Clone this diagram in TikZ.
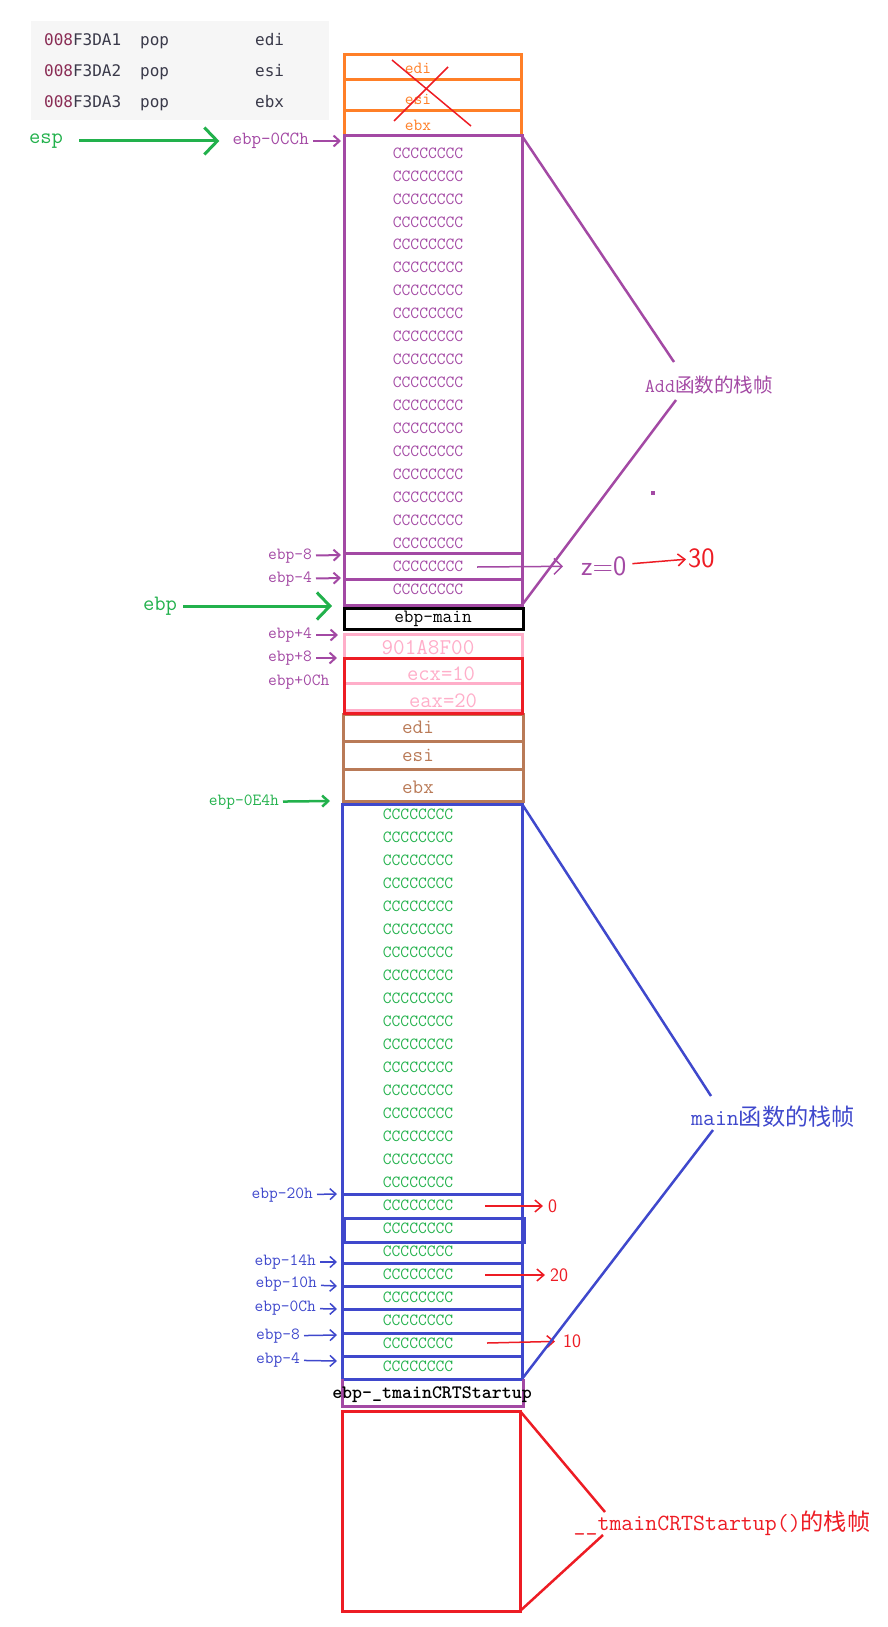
\documentclass[tikz,border=0pt]{standalone}
\usepackage{fontspec}
\newfontfamily\cjk{Noto Sans CJK SC}
\newfontfamily\asmfont{DejaVu Sans Mono}
\usetikzlibrary{arrows.meta}

\definecolor{stkorange}{HTML}{FF7F27}
\definecolor{stkpurple}{HTML}{A349A4}
\definecolor{stkgreen}{HTML}{22B14C}
\definecolor{stkpink}{HTML}{FFAEC9}
\definecolor{stkred}{HTML}{ED1C24}
\definecolor{stkbrown}{HTML}{B97A57}
\definecolor{stkblue}{HTML}{3F48CC}
\definecolor{asmgray}{HTML}{F6F6F6}
\definecolor{asmaddr}{HTML}{8A2D55}
\definecolor{asmtext}{HTML}{3A3A4A}

\begin{document}
\begin{tikzpicture}[
    x = 1pt, y = -1pt,
    every node/.style = {inner sep = 0pt},
    cell/.style = {font = \fontsize{17}{17}\selectfont\ttfamily},
    reg name/.style = {font = \fontsize{22}{22}\selectfont\ttfamily},
    hand/.style = {font = \fontsize{28}{28}\selectfont\sffamily},
    small hand/.style = {font = \fontsize{19}{19}\selectfont\sffamily},
    asm/.style = {font = \fontsize{16}{16}\selectfont\asmfont, anchor = base west},
    stack frame/.style = {line width = 3pt},
    spoke/.style = {line width = 2.5pt},
    pointer/.style = {
        line width = 2pt, shorten <= 4pt,
        -{Straight Barb[length = 6pt, width = 11pt]}
    },
    reg arrow/.style = {
        line width = 3pt, stkgreen,
        -{Straight Barb[length = 13pt, width = 27pt]}
    },
    note/.style = {
        line width = 1.5pt, stkred,
        -{Straight Barb[length = 7pt, width = 12pt]}
    }
]

\useasboundingbox (0,0) rectangle (888,1627);

% pop instructions
\fill[asmgray] (31,21) rectangle (329,120);
\foreach \n/\y/\r in {1/46/edi, 2/77/esi, 3/108/ebx} {
    \node[asm, text=asmtext] (addr\n) at (44,\y) {\textcolor{asmaddr}{008}F3DA\n};
    \node[asm, text=asmtext] (op\n) at (140,\y) {pop};
    \node[asm, text=asmtext] (reg\n) at (255,\y) {\r};
}

% registers already popped
\draw[stack frame, stkorange] (344,55) rectangle (521,136)
    (344,80) -- (521,80) (344,111) -- (521,111);
\node[cell, text=stkorange] (popedi) at (418,68) {edi};
\node[cell, text=stkorange] (popesi) at (418,99) {esi};
\node[cell, text=stkorange] (popebx) at (418,125) {ebx};
\draw[stkred, line width = 1.5pt] (392,60) -- (471,126) (448,67) -- (394,121);

% Add frame
\draw[stack frame, stkpurple] (344,136) rectangle (522,605)
    (344,553) -- (522,553) (344,579) -- (522,579);
\foreach \i in {0,...,19}
    \node[cell, text=stkpurple] (addc\i) at (428,{153+22.95*\i}) {CCCCCCCC};

\node[cell, text=stkpurple, anchor=east, font=\fontsize{18.5}{18.5}\selectfont\ttfamily] (cch) at (309,141) {ebp-0CCh};
\coordinate (espslot) at (341,141);
\draw[pointer, stkpurple] (cch) -- (espslot);
\node[reg name, text=stkgreen] (esp) at (46,141) {esp};
\draw[reg arrow, shorten <= 16pt, shorten >= 13pt] (esp) -- (cch);

\node[cell, text=stkpurple, anchor=east] (am8) at (312,556) {ebp-8};
\node[cell, text=stkpurple, anchor=east] (am4) at (312,579) {ebp-4};
\coordinate (am8slot) at (341,555);
\coordinate (am4slot) at (341,578);
\draw[pointer, stkpurple] (am8) -- (am8slot);
\draw[pointer, stkpurple] (am4) -- (am4slot);

\coordinate (zsrc) at (477,567);
\node[hand, text=stkpurple, anchor=west] (zval) at (581,566) {z=0};
\node[hand, text=stkred, anchor=west] (zsum) at (688,558) {30};
\draw[stkpurple, line width = 1.5pt, shorten >= 18pt,
    -{Straight Barb[length = 8pt, width = 16pt]}] (zsrc) -- (zval);
\draw[note, shorten <= 6pt, shorten >= 2pt] (zval) -- (zsum);

% saved ebp of main
\draw[stack frame] (344,608.5) rectangle (523,629.5);
\node[cell, font=\fontsize{18.8}{18.8}\selectfont\ttfamily] (ebpmain) at (433,619) {ebp-main};
\node[reg name, text=stkgreen] (ebpreg) at (160,606) {ebp};
\coordinate (ebpslot) at (332,606);
\draw[reg arrow, shorten <= 6pt] (ebpreg) -- (ebpslot);

% main frame
\draw[stack frame, stkblue] (342,804) rectangle (522,1379);
\foreach \y in {1194,1263,1286,1309,1333,1356}
    \draw[stack frame, stkblue] (342,\y) -- (522,\y);
\draw[stack frame, stkblue] (344,1218) rectangle (524,1242);
\foreach \i in {0,...,24}
    \node[cell, text=stkgreen] (mainc\i) at (418,{814+23.03*\i}) {CCCCCCCC};

% saved registers of main
\draw[stack frame, stkbrown] (343,714) rectangle (523,801)
    (343,741) -- (523,741) (343,769) -- (523,769);
\node[text=stkbrown, font=\fontsize{20.5}{20.5}\selectfont\ttfamily] (medi) at (418,727) {edi};
\node[text=stkbrown, font=\fontsize{20.5}{20.5}\selectfont\ttfamily] (mesi) at (418,755) {esi};
\node[text=stkbrown, font=\fontsize{20.5}{20.5}\selectfont\ttfamily] (mebx) at (418,787) {ebx};

% return address and arguments
\draw[stack frame, stkpink] (344,634) rectangle (522,710) (344,683.5) -- (522,683.5);
\draw[stack frame, stkred] (344,658.5) rectangle (522,713);
\node[text=stkpink, font=\fontsize{22.5}{22.5}\selectfont\ttfamily] (retaddr) at (428,648) {901A8F00};
\node[text=stkpink, font=\fontsize{22}{22}\selectfont\ttfamily] (argx) at (441,674) {ecx=10};
\node[text=stkpink, font=\fontsize{22}{22}\selectfont\ttfamily] (argy) at (443,701) {eax=20};

\node[cell, text=stkpurple, anchor=east] (ap4) at (312,635) {ebp+4};
\node[cell, text=stkpurple, anchor=east] (ap8) at (312,658) {ebp+8};
\node[cell, text=stkpurple, anchor=west] (apc) at (268,682) {ebp+0Ch};
\coordinate (ap4slot) at (338,635);
\coordinate (ap8slot) at (337,658);
\draw[pointer, stkpurple] (ap4) -- (ap4slot);
\draw[pointer, stkpurple] (ap8) -- (ap8slot);

\node[cell, text=stkgreen, anchor=east] (e4h) at (279,802) {ebp-0E4h};
\coordinate (e4hslot) at (330,801);
\draw[pointer, stkgreen, line width = 2.5pt] (e4h) -- (e4hslot);

\foreach \n/\t/\x/\y/\s in {m20h/ebp-20h/313/1195/1194, m14h/ebp-14h/316/1262/1262,
        m10h/ebp-10h/317/1284/1286, m0ch/ebp-0Ch/316/1308/1309,
        m8/ebp-8/300/1336/1335, m4/ebp-4/300/1360/1361} {
    \node[cell, text=stkblue, anchor=east] (\n) at (\x,\y) {\t};
    \coordinate (\n slot) at (337,\s);
    \draw[pointer, stkblue, line width = 1.5pt] (\n) -- (\n slot);
}

\coordinate (v0src) at (485,1206);
\coordinate (v20src) at (485,1275);
\coordinate (v10src) at (487,1343);
\node[small hand, text=stkred, anchor=west] (v0) at (548,1206) {0};
\node[small hand, text=stkred, anchor=west] (v20) at (550,1275) {20};
\node[small hand, text=stkred, anchor=west] (v10) at (563,1341) {10};
\draw[note, shorten >= 5pt] (v0src) -- (v0);
\draw[note, shorten >= 5pt] (v20src) -- (v20);
\draw[note, shorten >= 8pt] (v10src) -- (v10);

% __tmainCRTStartup frame
\draw[stack frame, stkpurple] (342,1379) -- (342,1406) -- (523,1406) -- (523,1379);
\node[font=\fontsize{19}{19}\selectfont\ttfamily\bfseries] (crtebp) at (432,1395) {ebp-\_tmainCRTStartup};
\draw[stack frame, stkred] (342,1411) rectangle (520,1611);

% frame labels
\coordinate (addtop) at (522,136);
\coordinate (addbot) at (522,605);
\coordinate (addtip1) at (674,362);
\coordinate (addtip2) at (676,400);
\node[text=stkpurple, font=\fontsize{19.6}{19.6}\selectfont\ttfamily] (addlbl) at (709,385) {Add{\cjk 函数的栈帧}};
\draw[spoke, stkpurple] (addtop) -- (addtip1) (addtip2) -- (addbot);
\fill[stkpurple] (651,491) rectangle (655,495);

\coordinate (maintop) at (522,804);
\coordinate (mainbot) at (522,1379);
\coordinate (maintip1) at (711,1096);
\coordinate (maintip2) at (713,1130);
\node[text=stkblue, font=\fontsize{23.2}{23.2}\selectfont\ttfamily] (mainlbl) at (773,1117) {main{\cjk 函数的栈帧}};
\draw[spoke, stkblue] (maintop) -- (maintip1) (maintip2) -- (mainbot);

\coordinate (crttop) at (520,1411);
\coordinate (crtbot) at (520,1611);
\coordinate (crttip1) at (605,1512);
\coordinate (crttip2) at (603,1535);
\node[text=stkred, font=\fontsize{23.2}{23.2}\selectfont\ttfamily] (crtlbl) at (722,1523) {\_\_tmainCRTStartup(){\cjk 的栈帧}};
\draw[spoke, stkred] (crttop) -- (crttip1) (crttip2) -- (crtbot);

\end{tikzpicture}
\end{document}
